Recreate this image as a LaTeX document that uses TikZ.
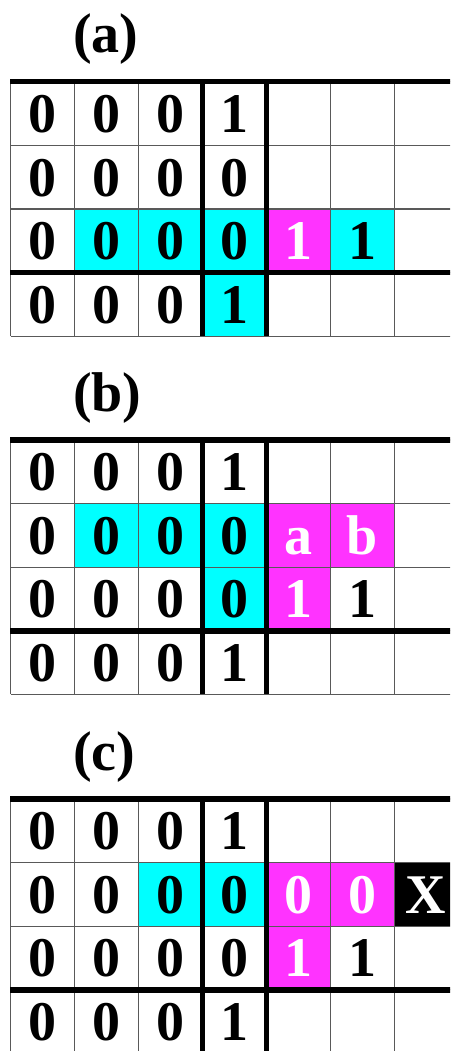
\documentclass[tikz,border=0pt]{standalone}
\usepackage{fontspec}
\setmainfont{Liberation Serif}
\definecolor{cy}{RGB}{0,255,255}
\definecolor{mg}{RGB}{255,51,255}
\tikzset{
  thingrid/.style={line width=1.2pt, draw=black!65},
  thickgrid/.style={line width=5.5pt, draw=black},
  cell/.style={font=\fontsize{56}{56}\selectfont\bfseries, inner sep=0pt, text height=37.9pt, text depth=0pt},
  wcell/.style={cell, text=white},
  lbl/.style={font=\fontsize{56}{56}\selectfont\bfseries, anchor=base west, inner sep=0pt},
}
\newcommand{\CW}{63.9}
\newcommand{\RH}{63.6}
\newcommand{\XO}{10.7}
\newcommand{\cellfill}[3]{\fill[#1] ({\XO+\CW*#2},{\RH*#3}) rectangle ++(\CW,\RH);}
\newcommand{\gridlines}{%
  \foreach \r in {0,...,4} \draw[thingrid] (\XO,{\RH*\r}) -- (460,{\RH*\r});
  \foreach \c in {0,...,7} \draw[thingrid] ({\XO+\CW*\c},0) -- ({\XO+\CW*\c},{\RH*4});
  \draw[thickgrid] (\XO-0.5,0) -- (460,0);
  \draw[thickgrid] (\XO-0.5,{\RH*3}) -- (460,{\RH*3});
  \draw[thickgrid] ({\XO+\CW*3},0) -- ({\XO+\CW*3},{\RH*4});
  \draw[thickgrid] ({\XO+\CW*4},0) -- ({\XO+\CW*4},{\RH*4});
}
\newcommand{\cellxy}[2]{({\XO+\CW*(#1+0.5)},{\RH*(#2+0.5)})}
\begin{document}
\begin{tikzpicture}[x=1pt,y=-1pt]
\useasboundingbox (0,0) rectangle (450,1051);
\clip (0,0) rectangle (450,1051);
\fill[white] (0,0) rectangle (450,1051);

% ---------- panel (a)
\node[lbl] (la) at (73,53) {(a)};
\begin{scope}[yshift=-81.7pt]
  \cellfill{cy}{1}{2}\cellfill{cy}{2}{2}\cellfill{cy}{3}{2}
  \cellfill{mg}{4}{2}\cellfill{cy}{5}{2}\cellfill{cy}{3}{3}
  \gridlines
  \foreach \t [count=\c from 0] in {0,0,0,1} \node[cell] (a-0-\c) at \cellxy{\c}{0} {\t};
  \foreach \t [count=\c from 0] in {0,0,0,0} \node[cell] (a-1-\c) at \cellxy{\c}{1} {\t};
  \foreach \t [count=\c from 0] in {0,0,0,0} \node[cell] (a-2-\c) at \cellxy{\c}{2} {\t};
  \node[wcell] (a-2-4) at \cellxy{4}{2} {1};
  \node[cell] (a-2-5) at \cellxy{5}{2} {1};
  \foreach \t [count=\c from 0] in {0,0,0,1} \node[cell] (a-3-\c) at \cellxy{\c}{3} {\t};
\end{scope}

% ---------- panel (b)
\node[lbl] (lb) at (73,411.5) {(b)};
\begin{scope}[yshift=-440pt]
  \cellfill{cy}{1}{1}\cellfill{cy}{2}{1}\cellfill{cy}{3}{1}
  \cellfill{mg}{4}{1}\cellfill{mg}{5}{1}
  \cellfill{cy}{3}{2}\cellfill{mg}{4}{2}
  \gridlines
  \foreach \t [count=\c from 0] in {0,0,0,1} \node[cell] (b-0-\c) at \cellxy{\c}{0} {\t};
  \foreach \t [count=\c from 0] in {0,0,0,0} \node[cell] (b-1-\c) at \cellxy{\c}{1} {\t};
  \node[wcell] (b-1-4) at \cellxy{4}{1} {a};
  \node[wcell] (b-1-5) at \cellxy{5}{1} {b};
  \foreach \t [count=\c from 0] in {0,0,0,0} \node[cell] (b-2-\c) at \cellxy{\c}{2} {\t};
  \node[wcell] (b-2-4) at \cellxy{4}{2} {1};
  \node[cell] (b-2-5) at \cellxy{5}{2} {1};
  \foreach \t [count=\c from 0] in {0,0,0,1} \node[cell] (b-3-\c) at \cellxy{\c}{3} {\t};
\end{scope}

% ---------- panel (c)
\node[lbl] (lc) at (73,770) {(c)};
\begin{scope}[yshift=-799pt]
  \cellfill{cy}{2}{1}\cellfill{cy}{3}{1}
  \cellfill{mg}{4}{1}\cellfill{mg}{5}{1}\cellfill{black}{6}{1}
  \cellfill{mg}{4}{2}
  \gridlines
  \foreach \t [count=\c from 0] in {0,0,0,1} \node[cell] (c-0-\c) at \cellxy{\c}{0} {\t};
  \foreach \t [count=\c from 0] in {0,0,0,0} \node[cell] (c-1-\c) at \cellxy{\c}{1} {\t};
  \node[wcell] (c-1-4) at \cellxy{4}{1} {0};
  \node[wcell] (c-1-5) at \cellxy{5}{1} {0};
  \node[wcell] (c-1-6) at \cellxy{6}{1} {X};
  \foreach \t [count=\c from 0] in {0,0,0,0} \node[cell] (c-2-\c) at \cellxy{\c}{2} {\t};
  \node[wcell] (c-2-4) at \cellxy{4}{2} {1};
  \node[cell] (c-2-5) at \cellxy{5}{2} {1};
  \foreach \t [count=\c from 0] in {0,0,0,1} \node[cell] (c-3-\c) at \cellxy{\c}{3} {\t};
\end{scope}
\end{tikzpicture}
\end{document}
